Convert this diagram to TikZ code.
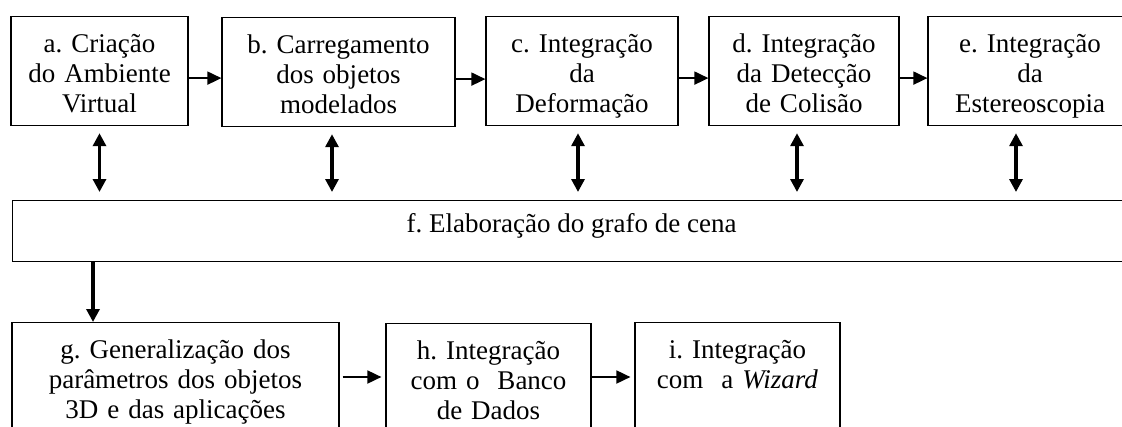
\documentclass[tikz,border=0pt]{standalone}
\usepackage{fontspec}
\setmainfont{Liberation Serif}
\usetikzlibrary{arrows.meta}
\frenchspacing

\begin{document}
\begin{tikzpicture}[
  x=1pt,
  y=-1pt,
  every node/.style={font=\fontsize{27pt}{30pt}\selectfont},
  stagebox/.style={draw, line width=1.2pt, anchor=north, align=center,
    inner xsep=4pt, inner ysep=4pt, text height=32pt, text depth=69pt},
  lowbox/.style={stagebox, text depth=120pt},
  flowarrow/.style={line width=1.8pt, -{Triangle[length=14pt,width=13pt]}},
  linkarrow/.style={line width=3.2pt,
    {Triangle[length=13pt,width=13pt]}-{Triangle[length=13pt,width=13pt]},
    shorten <=7pt, shorten >=8pt}
]
  \useasboundingbox (0,0) rectangle (1122,426);
  \clip (0,0) rectangle (1122,426);

  % top row
  \node[stagebox, text width=169pt] (crea) at (99.5,16) {a. Criação\\do Ambiente\\Virtual};
  \node[stagebox, text width=225pt] (load) at (338.5,17) {b. Carregamento\\dos objetos\\modelados};
  \node[stagebox, text width=184pt] (deform) at (582,16) {c. Integração\\da\\Deformação};
  \node[stagebox, text width=182pt] (collide) at (804,16) {d. Integração\\da Detecção\\de Colisão};
  \node[stagebox, text width=196pt] (stereo) at (1030,16) {e. Integração\\da\\Estereoscopia};

  % scene graph
  \node[draw, line width=1.2pt, anchor=north west, minimum width=1118pt,
    inner ysep=4pt, text height=28pt, text depth=25pt] (scene) at (12,200)
    {f. Elaboração do grafo de cena};

  % bottom row
  \node[lowbox, text width=319pt] (params) at (175.5,322) {g. Generalização dos\\parâmetros dos objetos\\3D e das aplicações};
  \node[lowbox, text width=197pt] (dbase) at (488.5,323) {h. Integração\\com o~~Banco\\de Dados};
  \node[lowbox, text width=197pt] (wizard) at (737.5,322) {i. Integração\\com~~a \textit{Wizard}};

  \draw[flowarrow] ([yshift=-7pt]crea.east) -- ([yshift=-7pt]crea.east -| load.west);
  \draw[flowarrow] ([yshift=-7pt]load.east) -- ([yshift=-7pt]load.east -| deform.west);
  \draw[flowarrow] ([yshift=-7pt]deform.east) -- ([yshift=-7pt]deform.east -| collide.west);
  \draw[flowarrow] ([yshift=-7pt]collide.east) -- ([yshift=-7pt]collide.east -| stereo.west);

  \draw[linkarrow] (crea.south) -- (crea.south |- scene.north);
  \draw[linkarrow] ([xshift=-6.5pt]load.south) -- ([xshift=-6.5pt]load.south |- scene.north);
  \draw[linkarrow] ([xshift=-4pt]deform.south) -- ([xshift=-4pt]deform.south |- scene.north);
  \draw[linkarrow] ([xshift=-7pt]collide.south) -- ([xshift=-7pt]collide.south |- scene.north);
  \draw[linkarrow] ([xshift=-14pt]stereo.south) -- ([xshift=-14pt]stereo.south |- scene.north);

  \draw[line width=3.2pt, -{Triangle[length=13pt,width=13pt]}]
    ([xshift=-82.5pt]params.north |- scene.south) -- ([xshift=-82.5pt]params.north);

  \draw[flowarrow, shorten <=3pt, shorten >=4pt]
    ([yshift=-55pt]params.north east) -- ([yshift=-55pt]params.north east -| dbase.west);
  \draw[flowarrow, shorten >=4pt]
    ([yshift=-54pt]dbase.north east) -- ([yshift=-54pt]dbase.north east -| wizard.west);
\end{tikzpicture}
\end{document}
